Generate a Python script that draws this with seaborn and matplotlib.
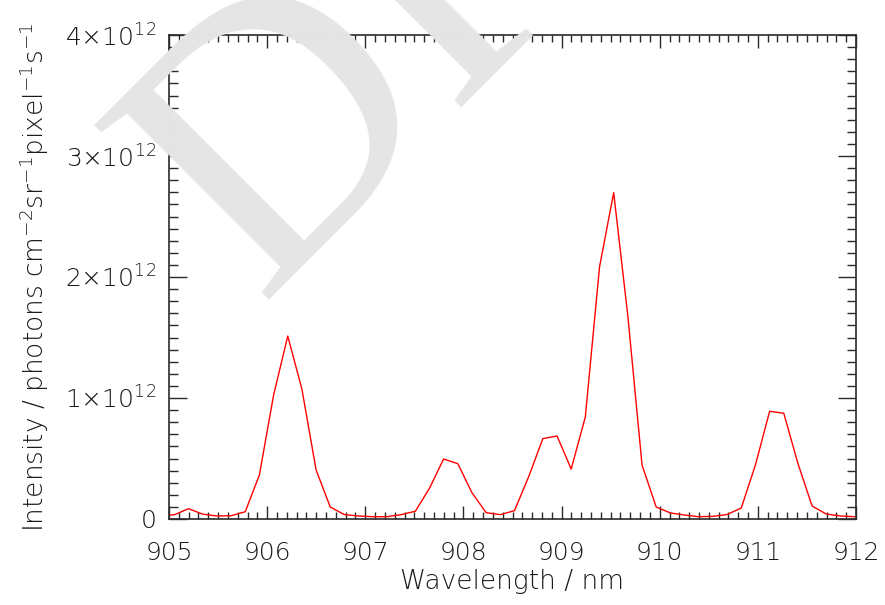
import numpy as np
import pandas as pd
import matplotlib
matplotlib.use("Agg")
import matplotlib.pyplot as plt
from matplotlib.ticker import FuncFormatter, MultipleLocator
import seaborn as sns

wavelength_nm = [904.911, 905.055, 905.199, 905.344, 905.488, 905.632, 905.777, 905.921,
                 906.066, 906.210, 906.354, 906.499, 906.643, 906.788, 906.932, 907.076,
                 907.221, 907.365, 907.510, 907.654, 907.798, 907.943, 908.087, 908.232,
                 908.376, 908.520, 908.665, 908.809, 908.954, 909.098, 909.242, 909.387,
                 909.531, 909.676, 909.820, 909.964, 910.109, 910.253, 910.398, 910.542,
                 910.686, 910.831, 910.975, 911.120, 911.264, 911.408, 911.553, 911.697,
                 911.842, 911.986, 912.130]
intensity_1e12 = [0.030, 0.035, 0.085, 0.040, 0.025, 0.027, 0.060, 0.364,
                  1.025, 1.512, 1.074, 0.405, 0.099, 0.036, 0.025, 0.019,
                  0.019, 0.036, 0.064, 0.254, 0.496, 0.457, 0.217, 0.052,
                  0.036, 0.069, 0.350, 0.664, 0.686, 0.413, 0.843, 2.085,
                  2.697, 1.672, 0.446, 0.099, 0.050, 0.033, 0.019, 0.022,
                  0.037, 0.091, 0.446, 0.890, 0.874, 0.460, 0.107, 0.041,
                  0.025, 0.019, 0.015]
x_ticks = [905, 906, 907, 908, 909, 910, 911, 912]
y_ticks_1e12 = [0, 1, 2, 3, 4]

df = pd.DataFrame({"wavelength": wavelength_nm,
                   "intensity": np.array(intensity_1e12) * 1e12})

sns.set_style("ticks")
plt.rcParams['font.family'] = ['DejaVu Sans']
plt.rcParams['font.weight'] = 'light'
plt.rcParams['axes.labelweight'] = 'light'
plt.rcParams['mathtext.fontset'] = 'custom'
plt.rcParams['mathtext.rm'] = 'DejaVu Sans:light'
plt.rcParams['mathtext.it'] = 'DejaVu Sans:light'
plt.rcParams['mathtext.default'] = 'rm'

ink = '#1a1a1a'
fig = plt.figure(figsize=(8.85, 6.05), dpi=100)
ax = fig.add_axes([169/885, 1 - 519/605, (856 - 169)/885, (519 - 35)/605])
ax.patch.set_alpha(0)

fig.text(0.2915, 0.504, 'DRAFT', fontsize=270, family='Liberation Serif',
         color='#e5e5e5', rotation=45, rotation_mode='anchor',
         ha='left', va='baseline', zorder=0)

sns.lineplot(data=df, x="wavelength", y="intensity", ax=ax, color='#ff0000',
             linewidth=1.0, sort=False)

ax.set_xlim(905, 912)
ax.set_ylim(0, 4e12)
ax.set_xticks(x_ticks)
ax.set_yticks([v * 1e12 for v in y_ticks_1e12])
ax.xaxis.set_minor_locator(MultipleLocator(0.1))
ax.yaxis.set_minor_locator(MultipleLocator(1e11))

def yfmt(v, pos):
    n = int(round(v / 1e12))
    if n == 0:
        return '0'
    return '%d\u00d710$^{12}$' % n

ax.yaxis.set_major_formatter(FuncFormatter(yfmt))
ax.xaxis.set_major_formatter(FuncFormatter(lambda v, p: '%d' % round(v)))

for s in ax.spines.values():
    s.set_color('#2a2a2a')
    s.set_linewidth(1.2)
ax.tick_params(which='both', direction='in', top=True, right=True,
               colors='#2a2a2a', labelcolor=ink, labelsize=18, width=1.0)
ax.tick_params(axis='x', which='major', length=9.5, pad=16)
ax.tick_params(axis='x', which='minor', length=5)
ax.tick_params(axis='y', which='major', length=13, pad=9)
ax.tick_params(axis='y', which='minor', length=6.5)

ax.set_xlabel('Wavelength / nm', fontsize=19, color=ink, labelpad=3, fontweight='light')
ax.set_ylabel('Intensity / photons cm$^{-2}$sr$^{-1}$pixel$^{-1}$s$^{-1}$',
              fontsize=19, color=ink, labelpad=10, fontweight='light')

fig.savefig('out.png', dpi=100)
